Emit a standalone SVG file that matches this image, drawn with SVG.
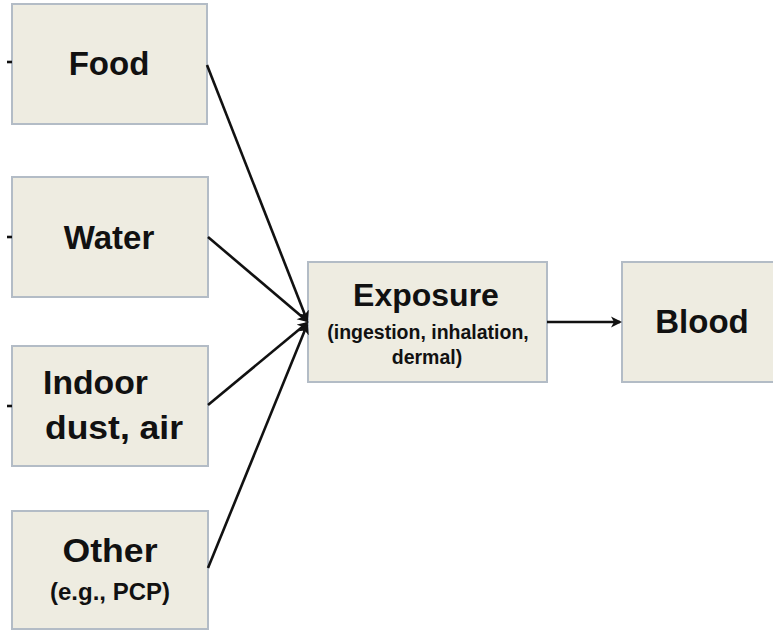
<svg xmlns="http://www.w3.org/2000/svg" width="773" height="630" viewBox="0 0 773 630">
<defs>
<marker id="arr" markerWidth="12" markerHeight="12" refX="9" refY="6" orient="auto" markerUnits="userSpaceOnUse">
<path d="M0,0.5 L11,6 L0,11.5 L3,6 Z" fill="#111"/>
</marker>
</defs>
<style>
.box{fill:#eeece1;stroke:#b3bcc6;stroke-width:2}
.t{font-family:"Liberation Sans",Arial,sans-serif;font-weight:bold;fill:#111}
.big{font-size:33px}
.mid{font-size:32px}
.sm{font-size:24px}
.xs{font-size:19.5px}
.c{stroke:#111;stroke-width:2.6;fill:none}
</style>
<rect width="773" height="630" fill="#fff"/>
<g id="food"><rect class="box" x="12" y="4" width="195" height="120"/><text class="t big" x="109" y="75" text-anchor="middle">Food</text></g>
<g id="water"><rect class="box" x="12" y="177" width="196" height="120"/><text class="t big" x="109" y="249" text-anchor="middle">Water</text></g>
<g id="indoor"><rect class="box" x="12" y="346" width="196" height="120"/><text class="t big" x="43" y="394" textLength="105" lengthAdjust="spacingAndGlyphs">Indoor</text><text class="t big" x="45" y="439" textLength="138" lengthAdjust="spacingAndGlyphs">dust, air</text></g>
<g id="other"><rect class="box" x="12" y="511" width="196" height="118"/><text class="t big" x="110" y="562" text-anchor="middle" textLength="95" lengthAdjust="spacingAndGlyphs">Other</text><text class="t sm" x="110" y="600" text-anchor="middle">(e.g., PCP)</text></g>
<g id="exposure"><rect class="box" x="308" y="262" width="239" height="120"/><text class="t mid" x="426" y="306" text-anchor="middle">Exposure</text><text class="t xs" x="428" y="339" text-anchor="middle">(ingestion, inhalation,</text><text class="t xs" x="427" y="364" text-anchor="middle">dermal)</text></g>
<g id="blood"><rect class="box" x="622" y="262" width="160" height="120"/><text class="t big" x="702" y="333" text-anchor="middle">Blood</text></g>
<g id="connectors">
<line class="c" x1="207" y1="65" x2="307" y2="320" marker-end="url(#arr)"/>
<line class="c" x1="208" y1="237" x2="307" y2="321" marker-end="url(#arr)"/>
<line class="c" x1="208" y1="405" x2="307" y2="323" marker-end="url(#arr)"/>
<line class="c" x1="208" y1="568" x2="307" y2="325" marker-end="url(#arr)"/>
<line class="c" x1="547" y1="322" x2="620" y2="322" marker-end="url(#arr)"/>
<line class="c" x1="7" y1="62" x2="12" y2="62"/>
<line class="c" x1="7" y1="237" x2="12" y2="237"/>
<line class="c" x1="7" y1="406" x2="12" y2="406"/>
</g>
</svg>
